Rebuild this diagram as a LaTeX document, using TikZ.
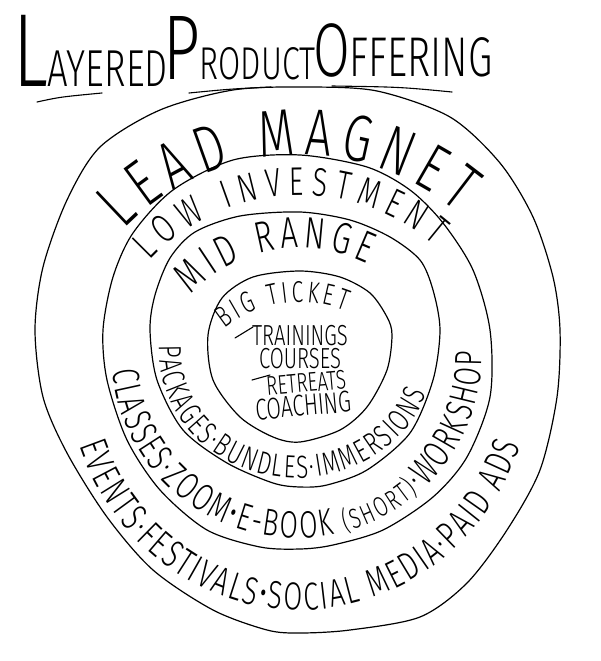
\documentclass[tikz,border=0pt]{standalone}
\usepackage{fontspec}
\usetikzlibrary{decorations.text}
\newfontfamily\hand{Fira Sans Light}[FakeStretch=0.7]
\newcommand\handsize[1]{\hand\fontsize{#1}{#1}\selectfont}

\begin{document}
\begin{tikzpicture}[x=1pt,y=1pt,
  ring/.style={line width=1.2pt,line join=round},
  stroke/.style={line width=1.1pt,line cap=round},
  ringtext/.style={decorate,decoration={text along path,text align={fit to path},text={#1}}},
  heading/.style={inner sep=0pt,anchor=base west},
  item/.style={inner sep=0pt,anchor=base}]
\useasboundingbox (0,0) rectangle (600,-661);

\node[heading] (layered) at (13,-86) {\handsize{104}L\handsize{52}AYERED};
\node[heading] (product) at (163,-80) {\handsize{92}P\handsize{46}RODUCT};
\node[heading] (offering) at (313,-77) {\handsize{76}O\handsize{56}FFERING};
\draw[stroke] (37,-102) .. controls (60,-97) .. (102,-93);
\draw[stroke] (189,-93) .. controls (230,-89) .. (271,-87);
\draw[stroke] (332,-86) .. controls (400,-87) .. (452,-92);

\draw[ring] plot[smooth cycle] coordinates {(305,-87) (377,-91) (450,-117) (500,-163) (533,-217) (553,-277) (560,-330) (557,-397) (540,-470) (507,-530) (467,-583) (420,-617) (350,-630) (300,-633) (267,-630) (213,-610) (153,-570) (107,-517) (67,-453) (43,-397) (35,-330) (43,-267) (67,-200) (100,-147) (160,-110) (233,-90)};
\draw[ring] plot[smooth cycle] coordinates {(300,-155) (367,-167) (410,-190) (443,-223) (473,-270) (490,-330) (490,-397) (467,-457) (433,-497) (383,-530) (333,-545) (300,-549) (260,-547) (207,-530) (160,-490) (127,-440) (107,-380) (103,-330) (113,-277) (133,-233) (173,-190) (233,-160)};
\draw[ring] plot[smooth cycle] coordinates {(300,-212) (350,-220) (390,-237) (420,-260) (433,-290) (440,-330) (433,-380) (410,-433) (367,-470) (327,-485) (300,-487) (273,-483) (227,-463) (183,-430) (157,-380) (150,-330) (155,-295) (170,-258) (195,-232) (240,-216)};
\draw[ring] plot[smooth cycle] coordinates {(300,-271) (340,-277) (370,-293) (387,-317) (392,-335) (387,-370) (367,-407) (340,-430) (300,-442) (273,-437) (240,-417) (213,-380) (208,-335) (222,-298) (253,-277)};

\path[ringtext={|\handsize{66}|LEAD MAGNET}] (300,-400) ++(136:245) arc[start angle=136,end angle=50,radius=245];
\path[ringtext={|\handsize{40}|LOW INVESTMENT}] (300,-400) ++(137:205) arc[start angle=137,end angle=49,radius=205];
\path[ringtext={|\handsize{44}|MID RANGE}] (300,-400) ++(136:152) arc[start angle=136,end angle=64,radius=152];
\path[ringtext={|\handsize{30}|BIG TICKET}] (300,-422) ++(129:120) arc[start angle=129,end angle=68,radius=120];

\node[item,font=\handsize{29}] (trainings) at (300,-345) {TRAININGS};
\node[item,font=\handsize{29}] (courses) at (300,-368) {COURSES};
\node[item,font=\handsize{27},rotate=5] (retreats) at (307,-392) {RETREATS};
\node[item,font=\handsize{30},rotate=5] (coaching) at (304,-416) {COACHING};
\draw[stroke] (235,-338) -- (253,-327);
\draw[stroke] (252,-380) -- (270,-375);

\path[ringtext={|\handsize{32}|PACKAGES·BUNDLES·IMMERSIONS}] (297,-350) ++(178:138 and 128) arc[start angle=178,end angle=340,x radius=138,y radius=128];
\path[ringtext={|\handsize{38}|CLASSES·ZOOM•E-BOOK |\handsize{28}|(SHORT)|\handsize{38}|·WORKSHOP}] (297,-355) ++(185:185 and 183) arc[start angle=185,end angle=361,x radius=185,y radius=183];
\path[ringtext={|\handsize{39}|EVENTS·FESTIVALS•SOCIAL MEDIA·PAID ADS}] (300,-360) ++(200:235 and 250) arc[start angle=200,end angle=340,x radius=235,y radius=250];
\end{tikzpicture}
\end{document}
